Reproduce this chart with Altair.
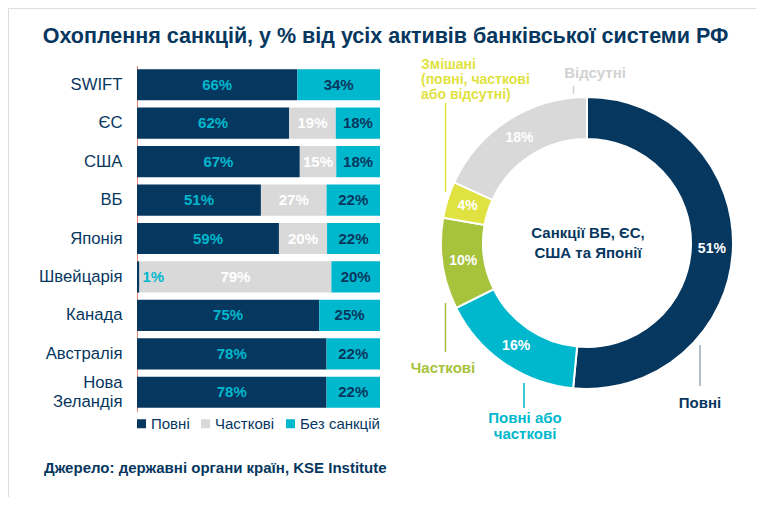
import altair as alt
import pandas as pd

# ---------------- data ----------------
countries = ["SWIFT", "ЄС", "США", "ВБ", "Японія", "Швейцарія", "Канада", "Австралія", "Нова Зеландія"]
categories = ["Повні", "Часткові", "Без санкцій"]
full_vals = [66, 62, 67, 51, 59, 1, 75, 78, 78]
partial_vals = [0, 19, 15, 27, 20, 79, 0, 0, 0]
none_vals = [34, 18, 18, 22, 22, 20, 25, 22, 22]

segments = ["Повні", "Повні або часткові", "Часткові", "Змішані", "Відсутні"]
seg_vals = [51, 16, 10, 4, 18]

title_text = "Охоплення санкцій, у % від усіх активів банківської системи РФ"
source_text = "Джерело: державні органи країн, KSE Institute"

# ---------------- styles ----------------
NAVY = "#06375f"
CYAN = "#00b8cd"
GRAY = "#d9d9d9"
GREEN = "#a7c23b"
YELLOW = "#dfe241"
LIGHTTXT = "#d2d2d2"
FONT = "Liberation Sans"

rows = []
for i, c in enumerate(countries):
    for j, (cat, vals) in enumerate(zip(categories, [full_vals, partial_vals, none_vals])):
        rows.append({"country": c, "cat": cat, "v": vals[i], "ord": j})
bar_df = pd.DataFrame(rows)

donut_df = pd.DataFrame({"seg": segments, "p": seg_vals, "ord": list(range(len(segments)))})

xs = alt.Scale(domain=[0, 1], range=[129, 372])
ys = alt.Scale(domain=countries, range=[57.5, 403.5], paddingInner=0.19, paddingOuter=0.095)
y_enc = alt.Y(
    "country:N",
    scale=ys,
    sort=countries,
    title=None,
    axis=alt.Axis(
        ticks=False,
        tickSize=0,
        domainColor="#e8836f",
        domainWidth=1,
        labelFontSize=16.7,
        labelColor=NAVY,
        labelFont=FONT,
        labelPadding=15,
        labelLineHeight=18.5,
        labelOffset={"condition": {"test": "datum.value == 'Нова Зеландія'", "value": -9}, "value": 0},
        offset=-129,
        grid=False,
        labelExpr="datum.label == 'Нова Зеландія' ? ['Нова', 'Зеландія'] : datum.label",
    ),
)

base = (
    alt.Chart(bar_df)
    .transform_joinaggregate(total="sum(v)", groupby=["country"])
    .transform_calculate(frac="datum.v / datum.total")
    .transform_window(cum="sum(frac)", groupby=["country"], sort=[alt.SortField("ord")], frame=[None, 0])
    .transform_calculate(start="datum.cum - datum.frac", mid="datum.cum - datum.frac / 2", label="datum.v + '%'")
)

bars = base.mark_bar().encode(
    x=alt.X("start:Q", scale=xs, axis=None),
    x2="cum:Q",
    y=y_enc,
    color=alt.Color(
        "cat:N",
        scale=alt.Scale(domain=categories, range=[NAVY, GRAY, CYAN]),
        legend=alt.Legend(
            orient="none",
            legendX=126,
            legendY=408,
            direction="horizontal",
            title=None,
            symbolType="square",
            symbolSize=81,
            symbolStrokeWidth=0,
            symbolOpacity=1,
            labelFontSize=15,
            labelColor=NAVY,
            labelFont=FONT,
            labelOffset=2,
            columnPadding=8,
            padding=0,
        ),
    ),
    order=alt.Order("ord:Q"),
)

bar_labels = base.transform_filter("datum.v > 0 && datum.frac >= 0.05").mark_text(
    fontSize=15, fontWeight="bold", font=FONT, baseline="middle", align="center"
).encode(
    x=alt.X("mid:Q", scale=xs, axis=None),
    y=y_enc,
    text="label:N",
    color=alt.Color("cat:N", scale=alt.Scale(domain=categories, range=[CYAN, "#ffffff", NAVY]), legend=None),
)

small_labels = base.transform_filter("datum.v > 0 && datum.frac < 0.05").mark_text(
    fontSize=15, fontWeight="bold", font=FONT, baseline="middle", align="left", dx=3, color=CYAN
).encode(
    x=alt.X("cum:Q", scale=xs, axis=None),
    y=y_enc,
    text="label:N",
)

# ---------------- donut ----------------
CX, CY = 579, 235
donut = alt.Chart(donut_df).mark_arc(radius=146, radius2=104, stroke="white", strokeWidth=2).encode(
    theta=alt.Theta("p:Q", stack=True),
    order=alt.Order("ord:Q"),
    color=alt.Color("seg:N", scale=alt.Scale(domain=segments, range=[NAVY, CYAN, GREEN, YELLOW, GRAY]), legend=None),
    x=alt.value(CX),
    y=alt.value(CY),
)

donut_labels = (
    alt.Chart(donut_df)
    .transform_calculate(label="datum.p + '%'")
    .mark_text(radius=125, fontSize=14, fontWeight="bold", font=FONT, color="white", baseline="middle")
    .encode(
        theta=alt.Theta("p:Q", stack=True),
        order=alt.Order("ord:Q"),
        text="label:N",
        x=alt.value(CX),
        y=alt.value(CY),
    )
)

one = pd.DataFrame({"a": [0]})


def txt(text, x, y, color, size=15, align="center", lh=16.5, weight="bold"):
    return alt.Chart(one).mark_text(
        text=text, fontSize=size, fontWeight=weight, font=FONT, color=color,
        align=align, baseline="middle", lineHeight=lh,
    ).encode(x=alt.value(x), y=alt.value(y))


def rule(x, y1, y2, color):
    return alt.Chart(one).mark_rule(color=color, strokeWidth=1.5).encode(
        x=alt.value(x), y=alt.value(y1), y2=alt.value(y2)
    )


annotations = [
    txt(["Санкції ВБ, ЄС,", "США та Японії"], CX + 1, 225, NAVY, size=15, lh=19.5),
    txt("Повні", 692, 395, NAVY),
    rule(692, 337, 378, "#9aa8b8"),
    txt(["Повні або", "часткові"], 517, 410, CYAN, lh=16),
    rule(516, 375, 400, CYAN),
    txt("Часткові", 435, 360, GREEN),
    rule(437.5, 295, 344, GREEN),
    txt(["Змішані", "(повні, часткові", "або відсутні)"], 413, 57, YELLOW, size=14, align="left", lh=15),
    rule(437.5, 95, 184, YELLOW),
    txt("Відсутні", 587, 65, LIGHTTXT),
    rule(565.5, 78, 86, LIGHTTXT),
    txt(title_text, 377.5, 29, NAVY, size=21.5),
    txt(source_text, 36, 460, NAVY, size=15, align="left"),
]

chart = (
    alt.layer(bars, bar_labels, small_labels, donut, donut_labels, *annotations)
    .resolve_scale(color="independent")
    .properties(width=748, height=489, autosize=alt.AutoSizeParams(type="none"), padding=0)
    .configure_view(stroke=None)
    .configure(font=FONT)
)

chart.save("out.html", embed_options={"renderer": "svg", "actions": False})
